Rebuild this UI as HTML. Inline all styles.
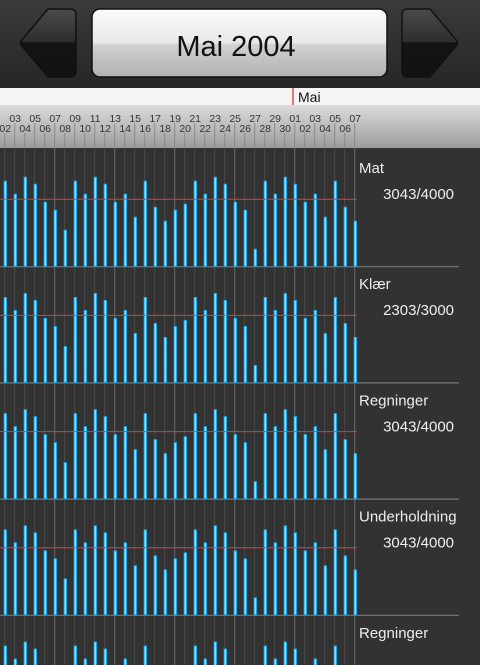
<!DOCTYPE html>
<html><head><meta charset="utf-8">
<style>
html,body{margin:0;padding:0;background:#323232;width:480px;height:665px;overflow:hidden;font-family:"Liberation Sans","DejaVu Sans",sans-serif;}
svg{display:block;}
</style></head>
<body>
<svg id="c" width="480" height="665" xmlns="http://www.w3.org/2000/svg">
<defs>
<linearGradient id="hdr" x1="0" y1="0" x2="0" y2="1"><stop offset="0" stop-color="#3a3a3a"/><stop offset="1" stop-color="#262626"/></linearGradient>
<linearGradient id="btn" x1="0" y1="0" x2="0" y2="1"><stop offset="0" stop-color="#fbfbfb"/><stop offset="0.5" stop-color="#e8e8e8"/><stop offset="0.52" stop-color="#d2d2d2"/><stop offset="1" stop-color="#b0b0b0"/></linearGradient>
<linearGradient id="arr" x1="0" y1="0" x2="0" y2="1"><stop offset="0" stop-color="#4a4a4a"/><stop offset="0.48" stop-color="#2e2e2e"/><stop offset="0.5" stop-color="#141414"/><stop offset="1" stop-color="#111"/></linearGradient>
<linearGradient id="band" x1="0" y1="0" x2="0" y2="1"><stop offset="0" stop-color="#dcdcdc"/><stop offset="1" stop-color="#9c9c9c"/></linearGradient>
</defs>
<rect x="0" y="0" width="480" height="88" fill="url(#hdr)"/>
<path d="M70,9 Q76,9 76,15 L76,71 Q76,77 70,77 L48,77 L21,45 Q20,43 21,41 L48,9 Z" fill="url(#arr)" stroke="#111" stroke-width="1.5" stroke-linejoin="round"/>
<path d="M408,9 Q402,9 402,15 L402,71 Q402,77 408,77 L430,77 L457,45 Q458,43 457,41 L430,9 Z" fill="url(#arr)" stroke="#111" stroke-width="1.5" stroke-linejoin="round"/>
<rect x="92" y="9" width="295" height="68" rx="8" fill="url(#btn)" stroke="#111" stroke-width="1.5"/>
<text x="236" y="56" text-anchor="middle" font-size="29" fill="#111">Mai 2004</text>
<rect x="0" y="88" width="480" height="17" fill="#f4f4f4"/>
<line x1="293" y1="88" x2="293" y2="105" stroke="#c00" stroke-width="1"/>
<text x="298" y="102" font-size="14" fill="#111">Mai</text>
<rect x="0" y="105" width="480" height="43" fill="url(#band)"/>
<g id="g"></g>
</svg>
<script>
const days=['02','03','04','05','06','07','08','09','10','11','12','13','14','15','16','17','18','19','20','21','22','23','24','25','26','27','28','29','30','01','02','03','04','05','06','07'];
const matValues=[85,72,89,82,64,56,36,85,72,89,82,64,72,49,85,59,45,56,62,85,72,89,82,64,56,17,85,72,89,82,64,72,49,85,59,45];
const klaerValues=[85,72,89,82,64,56,36,85,72,89,82,64,72,49,85,59,45,56,62,85,72,89,82,64,56,17,85,72,89,82,64,72,49,85,59,45];
const regningerValues=[85,72,89,82,64,56,36,85,72,89,82,64,72,49,85,59,45,56,62,85,72,89,82,64,56,17,85,72,89,82,64,72,49,85,59,45];
const underholdningValues=[85,72,89,82,64,56,36,85,72,89,82,64,72,49,85,59,45,56,62,85,72,89,82,64,56,17,85,72,89,82,64,72,49,85,59,45];
const regninger2Values=[85,72,89,82,64,56,36,85,72,89,82,64,72,49,85,59,45,56,62,85,72,89,82,64,56,17,85,72,89,82,64,72,49,85,59,45];
const panelNames=['Mat','Klær','Regninger','Underholdning','Regninger'];
const panelTotals=['3043/4000','2303/3000','3043/4000','3043/4000',''];
const panelLimits=[67,67,67,67,null];
const series=[matValues,klaerValues,regningerValues,underholdningValues,regninger2Values];

const NS='http://www.w3.org/2000/svg';
const g=document.getElementById('g');
function x(i){return 4.7+10*i;}
function mk(t,a){const e=document.createElementNS(NS,t);for(const k in a)e.setAttribute(k,a[k]);g.appendChild(e);return e;}
const panelTop=150, panelH=116.2;
function y(p,v){return panelTop+(p+1)*panelH-v;}

days.forEach((d,i)=>{
  const major=(i%6===5);
  let l=mk('line',{x1:x(i),x2:x(i),y1:148,y2:665,stroke:major?'#6a6a6a':'#4a4a4a','stroke-width':1});
  
  
  let tk=mk('line',{x1:x(i),x2:x(i),y1:(i%2?123:133),y2:148,stroke:'#8a8a8a','stroke-width':1});
  
  
  let t=mk('text',{x:x(i)+0.5,y:(i%2?122:132),'text-anchor':'middle','font-size':10.5,fill:'#333'});
  t.textContent=d;
  
  
});

series.forEach((vals,p)=>{
  const base=y(p,0);
  if(base<665){
    let s=mk('line',{x1:0,x2:459,y1:base+0.5,y2:base+0.5,stroke:'#777','stroke-width':1.2});
    
    
  }
  vals.forEach((v,i)=>{
    let r=mk('rect',{x:x(i)-0.6,y:y(p,v),width:2.4,height:v,fill:'#8fe0ff',stroke:'#1aa8e6','stroke-width':0.9});
    
    
  });
  if(panelLimits[p]!==null){
    let lim=mk('line',{x1:0,x2:357,y1:y(p,panelLimits[p]),y2:y(p,panelLimits[p]),stroke:'#e03c3c','stroke-width':1});
    
    
  }
  let n=mk('text',{x:359,y:base-panelH+23,'font-size':15,fill:'#eee'});
  n.textContent=panelNames[p];
  
  
  if(panelTotals[p]){
    let tt=mk('text',{x:454,y:base-panelH+49,'text-anchor':'end','font-size':15,fill:'#eee'});
    tt.textContent=panelTotals[p];
    
    
  }
});
</script>
</body></html>
